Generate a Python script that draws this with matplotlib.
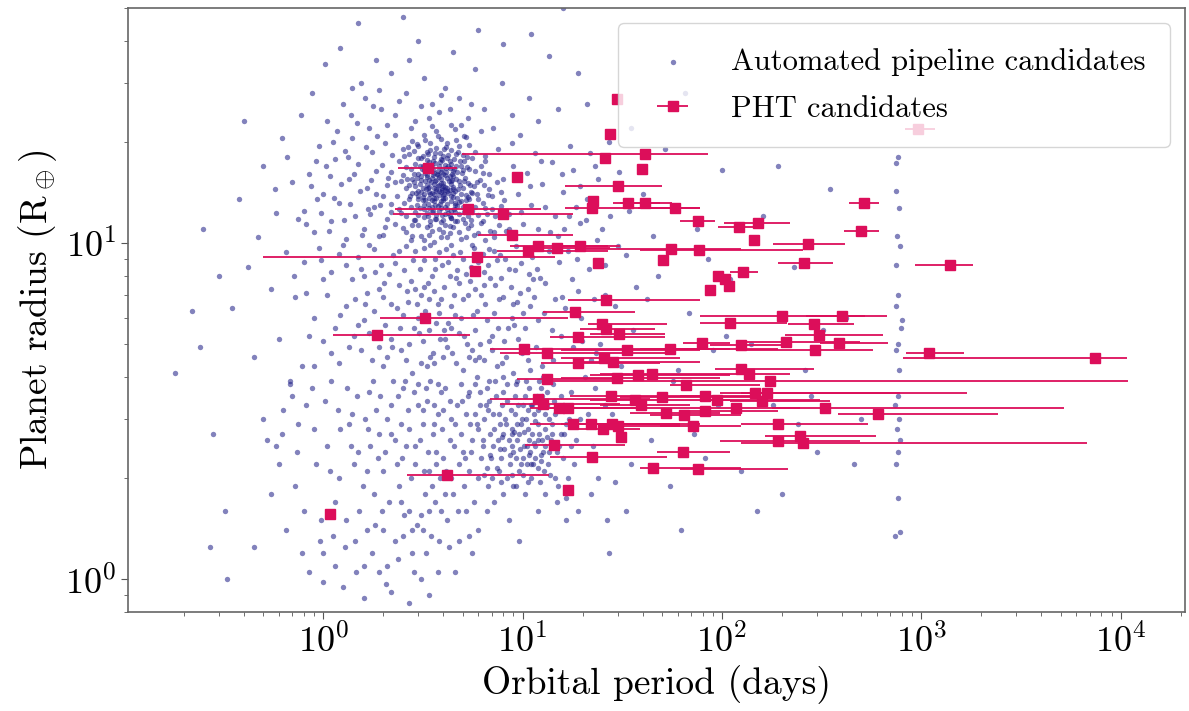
import matplotlib
matplotlib.use("Agg")
import matplotlib.pyplot as plt
import numpy as np

plt.rcParams["font.family"] = "serif"
plt.rcParams["font.serif"] = ["cmr10", "DejaVu Serif"]
plt.rcParams["mathtext.fontset"] = "cm"
plt.rcParams["axes.formatter.use_mathtext"] = True

# automated pipeline candidates: (period in days, radius in earth radii)
hot_jupiter_clump = [
    (3.2, 21.0), (3.9, 20.4), (4.6, 21.8), (2.8, 20.1), (3.5, 22.3), (5.2, 20.7), (4.2, 19.8), (3.0, 19.5),
    (3.3, 18.6), (3.7, 19.2), (4.0, 18.1), (4.4, 18.9), (2.7, 18.4), (5.0, 18.3), (3.1, 17.9), (3.6, 18.0),
    (4.8, 19.4), (2.5, 19.0), (5.8, 18.7), (4.3, 17.6),
    (2.6, 16.8), (2.9, 17.2), (3.2, 16.5), (3.4, 17.4), (3.8, 16.9), (4.1, 17.1), (4.5, 16.4), (4.9, 17.0),
    (5.4, 16.6), (3.0, 16.1), (3.6, 16.2), (4.0, 16.0), (4.7, 16.3), (2.4, 17.5), (6.2, 16.9), (3.3, 17.7),
    (3.9, 17.8), (4.3, 16.7), (5.1, 17.6), (2.2, 16.3),
    (2.3, 15.2), (2.6, 14.6), (2.8, 15.5), (3.0, 14.3), (3.1, 15.8), (3.3, 14.9), (3.4, 15.4), (3.5, 14.1),
    (3.6, 15.0), (3.7, 14.5), (3.8, 15.7), (3.9, 14.2), (4.0, 15.1), (4.1, 14.7), (4.2, 15.6), (4.3, 14.4),
    (4.4, 15.0), (4.6, 14.3), (4.8, 15.3), (5.0, 14.6), (5.3, 15.1), (5.7, 14.8), (6.1, 15.4), (6.8, 14.5),
    (2.5, 15.9), (3.2, 14.0), (3.65, 15.3), (4.05, 14.0), (4.5, 15.8), (2.9, 14.8), (3.35, 14.6), (3.75, 14.8),
    (4.25, 14.1), (5.5, 14.2), (2.1, 14.9), (7.4, 15.2),
    (2.2, 13.1), (2.4, 12.6), (2.7, 13.5), (2.9, 12.4), (3.0, 13.8), (3.2, 13.0), (3.3, 12.3), (3.4, 13.6),
    (3.5, 12.8), (3.6, 13.3), (3.7, 12.1), (3.8, 13.9), (3.9, 12.7), (4.0, 13.4), (4.1, 12.2), (4.2, 13.1),
    (4.4, 12.5), (4.5, 13.7), (4.7, 12.9), (4.9, 13.3), (5.1, 12.4), (5.4, 13.5), (5.8, 12.8), (6.3, 13.2),
    (7.0, 12.6), (8.1, 13.4), (2.6, 12.0), (3.15, 13.45), (3.55, 12.5), (3.85, 13.05), (4.3, 12.0), (4.6, 13.2),
    (5.2, 13.9), (6.6, 12.2), (3.05, 12.75), (3.45, 13.95),
    (2.3, 11.4), (2.6, 10.8), (2.9, 11.7), (3.1, 10.5), (3.3, 11.2), (3.5, 10.9), (3.7, 11.8), (3.9, 10.4),
    (4.1, 11.3), (4.3, 10.7), (4.6, 11.6), (4.9, 10.3), (5.3, 11.1), (5.7, 10.6), (6.2, 11.5), (6.9, 10.9),
    (7.6, 11.3), (2.0, 10.6), (3.6, 10.1), (4.4, 11.9), (5.0, 11.8), (8.5, 11.0), (3.2, 11.95), (2.75, 10.2),
]

hot_jupiter_core = [
    (2.95, 19.7), (3.45, 19.9), (4.15, 19.3), (4.65, 20.2), (3.75, 20.8), (5.4, 19.6), (2.65, 19.3), (3.25, 20.3),
    (2.85, 18.8), (3.15, 18.2), (3.45, 18.9), (3.55, 17.6), (3.85, 18.5), (4.05, 19.0), (4.25, 18.3), (4.55, 17.8),
    (4.75, 18.6), (5.25, 18.0), (2.55, 18.1), (3.95, 17.7), (4.85, 17.5), (3.35, 18.4), (5.6, 17.9), (6.5, 18.2),
    (2.75, 16.6), (3.05, 17.0), (3.25, 16.2), (3.45, 16.8), (3.65, 17.3), (3.75, 16.4), (3.95, 16.6), (4.15, 16.3),
    (4.35, 17.2), (4.65, 16.9), (4.95, 16.2), (5.25, 16.8), (5.75, 16.4), (2.85, 16.0), (3.55, 16.5), (4.25, 16.9),
    (4.45, 16.1), (3.15, 16.9), (3.85, 17.4), (5.05, 16.5),
    (2.45, 15.3), (2.7, 14.9), (2.95, 15.6), (3.05, 15.0), (3.25, 15.3), (3.4, 14.7), (3.5, 15.6), (3.6, 14.6),
    (3.7, 15.4), (3.8, 14.9), (3.9, 15.5), (4.0, 14.8), (4.1, 15.9), (4.2, 14.6), (4.35, 15.3), (4.5, 14.7),
    (4.65, 15.5), (4.85, 14.9), (5.15, 15.6), (5.45, 14.9), (5.9, 15.2), (6.4, 14.9), (3.15, 14.6), (3.55, 15.9),
    (3.95, 14.6), (4.45, 15.4), (2.85, 15.2), (3.3, 15.7), (3.75, 15.9), (4.75, 14.5),
    (2.35, 13.8), (2.55, 13.2), (2.8, 14.1), (3.0, 13.5), (3.1, 14.2), (3.25, 13.4), (3.4, 14.2), (3.5, 13.4),
    (3.6, 14.0), (3.7, 13.6), (3.8, 14.3), (3.9, 13.3), (4.0, 13.9), (4.1, 13.6), (4.2, 14.3), (4.35, 13.3),
    (4.5, 14.1), (4.7, 13.6), (4.9, 14.0), (5.2, 13.4), (5.6, 14.1), (6.0, 13.5), (6.7, 13.9), (3.35, 13.1),
    (3.95, 14.4), (4.6, 13.0), (2.95, 13.0), (3.65, 13.0),
    (2.45, 12.3), (2.75, 12.8), (3.0, 12.1), (3.2, 12.6), (3.35, 12.0), (3.5, 12.4), (3.65, 11.8), (3.8, 12.5),
    (3.95, 12.1), (4.1, 12.8), (4.25, 12.3), (4.4, 11.9), (4.55, 12.6), (4.8, 12.2), (5.0, 12.8), (5.3, 12.0),
    (5.6, 12.5), (6.0, 12.1), (6.5, 12.7), (7.3, 12.0), (2.85, 11.7), (3.45, 11.6), (4.0, 11.7), (4.7, 11.6),
    (5.5, 11.7),
    (2.5, 11.1), (2.8, 10.5), (3.0, 11.3), (3.4, 10.6), (3.8, 11.0), (4.2, 10.4), (4.5, 11.2), (4.8, 10.8),
    (5.2, 10.4), (5.5, 11.3), (6.0, 10.7), (6.5, 10.2), (7.2, 10.8), (3.2, 10.2), (4.0, 10.8),
]

hot_jupiter_dense = [
    (3.08, 15.45), (3.28, 14.45), (3.48, 15.15), (3.68, 14.25), (3.88, 15.05), (4.08, 14.35), (4.28, 15.25),
    (4.48, 14.45), (3.18, 13.75), (3.38, 12.75), (3.58, 13.65), (3.78, 12.85), (3.98, 13.65), (4.18, 12.65),
    (4.38, 13.85), (4.58, 12.35), (3.12, 16.65), (3.32, 15.95), (3.52, 16.95), (3.72, 16.05), (3.92, 16.25),
    (4.12, 16.75), (4.32, 15.85), (4.52, 16.65), (2.92, 14.05), (2.72, 13.85), (2.62, 15.55), (4.78, 13.25),
    (5.08, 15.25), (5.35, 13.75), (2.98, 17.85), (3.62, 18.55), (4.18, 17.85), (4.62, 18.35), (3.42, 11.35),
    (3.88, 11.55), (4.32, 11.25), (2.78, 11.35), (5.15, 11.45), (5.9, 14.0), (6.3, 16.2), (7.8, 14.2),
]

small_planet_clump = [
    (5.2, 3.1), (6.0, 2.8), (6.8, 3.4), (7.5, 2.6), (8.2, 3.0), (9.0, 2.4), (9.8, 2.9), (10.5, 2.2),
    (11.2, 2.7), (12.0, 3.2), (13.0, 2.5), (14.1, 2.9), (8.6, 2.2), (7.1, 2.5), (6.4, 3.0), (5.6, 2.6),
    (10.0, 3.3), (11.6, 2.3), (12.8, 2.1), (9.4, 2.6), (8.0, 3.6), (7.3, 3.9), (6.6, 3.7), (5.9, 4.0),
    (10.8, 3.7), (12.5, 3.5), (13.6, 3.0), (14.8, 2.4), (15.5, 2.7), (9.2, 3.5), (8.9, 2.8), (7.8, 2.3),
    (6.2, 2.3), (5.0, 2.4), (4.6, 2.9), (4.3, 3.4), (11.9, 2.6), (10.2, 2.5), (9.6, 2.1), (8.4, 2.0),
    (7.0, 2.0), (11.0, 2.0), (12.2, 1.95), (13.4, 2.2), (14.5, 2.0), (10.6, 2.8), (9.9, 3.0), (8.7, 3.2),
    (7.7, 2.9), (6.9, 2.7), (6.1, 3.3), (5.4, 3.6), (4.9, 3.8), (12.9, 2.8), (11.4, 3.1), (13.9, 2.6),
    (16.0, 2.3), (15.2, 3.2), (10.4, 3.9), (9.0, 4.1), (7.4, 4.3), (5.8, 4.5), (12.6, 4.0), (6.6, 2.15),
    (8.1, 2.45), (9.3, 2.3), (10.9, 2.4), (12.4, 2.35), (7.9, 2.65), (11.6, 2.95), (6.4, 2.05), (5.4, 2.1),
    (4.8, 2.2), (13.2, 3.6), (14.4, 3.4), (16.5, 2.9), (17.5, 2.5), (18.2, 2.2), (16.8, 2.0), (15.0, 1.9),
    (6.3, 2.5), (6.7, 3.2), (7.2, 2.8), (7.6, 3.1), (8.0, 2.7), (8.4, 3.4), (8.8, 2.5), (9.2, 3.1),
    (9.6, 2.7), (10.0, 2.3), (10.4, 3.0), (10.8, 2.6), (11.2, 3.3), (11.6, 2.5), (12.0, 2.9), (12.5, 2.6),
    (13.0, 3.1), (13.5, 2.4), (14.0, 2.7), (14.6, 3.1), (15.3, 2.5), (16.2, 2.7), (17.0, 3.0), (7.4, 2.15),
    (8.6, 2.35), (9.8, 2.2), (11.0, 2.2), (12.3, 2.25), (13.7, 2.05), (8.3, 2.9), (9.5, 3.3), (10.7, 3.2),
    (11.8, 3.5), (6.8, 3.9), (8.0, 4.0), (9.4, 3.9), (10.9, 4.2), (12.3, 3.7), (14.2, 3.8), (15.6, 3.5),
    (5.8, 3.1), (6.0, 2.0), (7.8, 1.95), (9.0, 1.9), (10.6, 1.95), (13.0, 1.8), (14.8, 1.7), (16.5, 1.75),
    (18.5, 2.6), (19.5, 3.0),
    (8.5, 2.6), (9.1, 2.75), (9.7, 2.45), (10.2, 2.75), (10.8, 2.35), (11.4, 2.55), (11.9, 2.15), (8.9, 2.05),
    (9.4, 2.9), (10.1, 2.05), (12.7, 2.4), (7.7, 2.45), (13.3, 2.65), (6.9, 2.35), (12.1, 2.7), (10.5, 2.5),
]

middle_band = [
    (1.1, 8.2), (1.3, 6.5), (1.5, 9.1), (1.7, 5.4), (1.9, 7.3), (2.1, 4.6), (2.3, 8.7), (2.5, 6.1),
    (2.7, 5.0), (2.9, 9.5), (3.1, 7.0), (3.3, 4.3), (3.5, 8.0), (3.7, 5.8), (3.9, 6.8), (4.2, 4.9),
    (4.5, 9.2), (4.8, 7.6), (5.1, 5.3), (5.5, 8.5), (5.9, 6.3), (6.4, 4.5), (6.9, 7.9), (7.5, 5.6),
    (8.2, 9.0), (9.0, 6.6), (9.9, 4.7), (10.8, 8.1), (11.9, 5.9), (1.2, 4.4), (1.4, 7.8), (1.6, 5.9),
    (1.8, 9.6), (2.0, 6.9), (2.2, 5.2), (2.4, 7.5), (2.6, 9.8), (2.8, 4.1), (3.0, 6.0), (3.2, 8.9),
    (3.4, 5.5), (3.6, 7.2), (3.8, 9.4), (4.0, 4.6), (4.4, 6.5), (4.7, 8.3), (5.0, 4.2), (5.3, 7.0),
    (5.7, 9.7), (6.1, 5.0), (6.7, 8.6), (7.2, 6.2), (7.9, 4.4), (8.7, 7.4), (9.5, 5.2), (10.4, 9.4),
    (11.4, 6.9), (12.5, 4.3), (0.9, 6.0), (0.8, 8.8), (1.0, 5.1), (0.95, 9.7), (1.25, 9.9), (1.55, 4.8),
    (2.15, 8.1), (2.65, 6.7), (3.15, 5.1), (3.45, 9.9), (3.95, 8.6), (4.35, 5.6), (4.9, 6.0), (5.6, 4.8),
    (6.3, 9.3), (7.0, 5.3), (8.0, 6.9), (9.2, 8.3), (10.1, 6.2), (13.0, 7.6), (14.0, 5.5), (15.2, 8.8),
    (16.4, 6.4), (17.8, 4.9), (19.0, 7.2),
    (1.05, 7.0), (1.15, 5.6), (1.2, 9.3), (1.35, 4.9), (1.45, 6.8), (1.55, 8.4), (1.65, 7.1), (1.75, 4.5),
    (1.8, 6.3), (1.95, 8.6), (2.05, 5.7), (2.25, 9.2), (2.35, 6.4), (2.45, 4.8), (2.55, 8.3), (2.75, 7.7),
    (2.85, 5.6), (2.95, 6.6), (3.05, 8.4), (3.25, 6.3), (3.35, 7.6), (3.55, 4.7), (3.65, 9.0), (3.75, 6.6),
    (3.85, 5.2), (4.05, 7.4), (4.15, 9.6), (4.25, 5.8), (4.55, 7.0), (4.65, 4.4), (4.85, 9.4), (5.05, 6.8),
    (5.25, 5.0), (5.45, 7.7), (5.8, 5.5), (6.0, 8.8), (6.2, 7.0), (6.6, 5.9), (6.8, 9.6), (7.3, 7.5),
    (7.7, 9.2), (8.1, 5.1), (8.5, 8.4), (8.9, 6.0), (9.3, 9.8), (9.7, 7.1), (10.3, 5.6), (10.6, 7.3),
    (11.1, 9.1), (11.7, 4.9), (12.2, 7.9), (12.8, 6.2), (13.5, 9.5), (14.5, 6.8), (1.1, 4.7), (1.0, 7.8),
    (0.85, 5.3), (0.9, 4.3), (0.82, 7.1), (0.98, 8.9), (1.3, 8.6), (1.5, 5.7), (1.7, 9.9), (2.0, 4.3),
    (2.2, 6.6), (2.6, 4.5), (2.9, 7.3), (3.2, 9.7), (3.4, 6.8), (3.6, 4.4), (4.1, 5.2), (4.3, 8.0),
    (4.6, 6.1), (5.0, 9.0), (5.4, 4.6), (5.8, 7.3), (6.5, 6.6), (7.0, 4.8), (7.6, 6.8), (8.3, 4.6),
    (9.1, 5.7), (9.8, 8.7), (10.9, 6.5), (11.8, 8.4), (3.1, 4.4), (2.4, 9.5), (1.9, 4.9), (1.6, 8.0),
    (4.4, 9.9), (5.6, 9.9), (6.4, 8.2), (7.4, 8.9),
    (1.22, 6.1), (1.42, 5.3), (1.62, 6.6), (1.82, 8.2), (2.02, 7.6), (2.22, 4.9), (2.42, 5.6), (2.62, 7.2),
    (2.82, 8.9), (3.02, 5.4), (3.22, 7.4), (3.42, 4.6), (3.62, 8.4), (3.82, 6.2), (4.02, 5.5), (4.22, 8.8),
    (4.42, 4.7), (4.62, 7.9), (4.82, 5.4), (5.22, 8.1), (5.62, 6.1), (6.02, 4.6), (6.42, 7.5), (6.82, 5.1),
    (7.22, 9.5), (7.82, 7.9), (8.42, 5.6), (9.42, 6.7), (10.6, 4.5), (11.3, 7.8),
]

small_short_period = [
    (0.6, 2.2), (0.7, 3.5), (0.8, 1.6), (0.9, 2.8), (1.0, 1.2), (1.1, 3.9), (1.2, 2.0), (1.3, 1.5),
    (1.4, 3.1), (1.5, 2.4), (1.6, 1.1), (1.7, 3.6), (1.8, 1.8), (1.9, 2.7), (2.0, 1.4), (2.2, 3.3),
    (2.4, 1.9), (2.6, 2.5), (2.8, 1.2), (3.0, 3.8), (3.2, 2.1), (3.4, 1.6), (3.6, 2.9), (3.8, 1.3),
    (4.0, 2.3), (0.65, 1.4), (0.75, 2.9), (0.85, 1.05), (1.05, 2.5), (1.15, 1.7), (1.35, 2.9), (1.45, 1.3),
    (1.65, 2.1), (1.85, 3.2), (2.1, 1.1), (2.3, 2.6), (2.5, 3.7), (2.7, 1.6), (2.9, 2.2), (3.1, 1.0),
    (3.3, 3.4), (3.5, 1.9), (3.7, 2.4), (3.9, 3.6), (4.2, 1.5), (4.5, 1.8), (4.8, 1.3), (1.25, 0.95),
    (1.6, 0.88), (2.2, 0.92), (2.7, 0.85), (0.55, 1.8), (0.5, 3.0), (0.45, 1.25), (1.0, 0.98), (3.4, 0.9),
    (1.9, 1.05), (5.2, 1.6), (6.0, 1.4), (7.2, 1.7), (5.6, 1.2), (8.5, 1.5), (9.6, 1.3), (12.0, 1.6),
    (4.6, 1.05), (2.0, 2.1), (2.5, 1.35),
    (0.62, 2.7), (0.72, 1.9), (0.82, 3.3), (0.92, 2.2), (1.02, 3.4), (1.12, 1.35), (1.22, 2.8), (1.32, 3.7),
    (1.42, 2.2), (1.52, 1.6), (1.62, 3.0), (1.72, 2.5), (1.82, 1.45), (1.92, 3.5), (2.05, 2.4), (2.15, 1.7),
    (2.25, 3.9), (2.35, 2.2), (2.45, 2.9), (2.55, 1.55), (2.65, 3.2), (2.75, 2.0), (2.85, 3.6), (2.95, 1.45),
    (3.05, 2.6), (3.15, 3.2), (3.25, 1.8), (3.35, 2.4), (3.45, 3.9), (3.55, 2.7), (3.65, 1.7), (3.75, 3.1),
    (3.85, 2.0), (3.95, 2.8), (4.1, 3.7), (4.3, 2.6), (4.4, 2.0), (4.7, 3.3), (4.9, 2.7), (5.1, 1.9),
    (5.3, 3.5), (5.5, 2.4), (5.7, 1.7), (5.9, 2.9), (6.3, 2.6), (6.7, 1.9), (7.1, 3.1), (7.6, 2.1),
    (8.0, 1.8), (8.8, 2.7), (9.3, 1.9), (10.3, 1.8), (11.3, 2.2), (0.58, 2.5), (0.68, 3.9), (0.78, 1.2),
    (0.88, 3.7), (0.98, 1.5), (1.08, 2.1), (1.18, 3.2), (1.28, 1.25), (1.38, 2.5), (1.48, 3.5), (1.58, 1.9),
    (1.68, 2.8), (1.78, 3.9), (1.88, 2.3), (1.98, 1.6), (2.08, 3.0), (2.18, 2.7), (2.28, 1.3), (2.38, 3.5),
    (2.48, 2.3), (2.58, 3.9), (2.68, 2.8), (2.78, 1.4), (2.88, 2.5), (2.98, 3.3), (3.08, 1.55), (3.18, 2.9),
    (3.28, 3.7), (3.38, 2.1), (3.48, 1.35), (3.58, 3.3), (3.68, 2.2), (3.78, 3.8), (3.88, 1.6), (3.98, 3.2),
    (4.15, 2.1), (4.35, 3.0), (4.55, 2.5), (4.75, 1.6), (4.95, 3.4), (5.15, 2.3), (5.45, 2.9), (5.75, 3.8),
    (6.15, 3.6), (6.55, 3.3), (6.95, 2.3), (7.35, 3.5), (7.85, 3.3), (8.35, 3.8), (9.3, 3.8), (10.3, 3.5),
    (11.0, 3.3), (12.1, 3.9), (13.3, 3.3),
    (1.14, 1.1), (1.46, 1.05), (1.76, 1.2), (2.06, 0.97), (2.36, 1.15), (2.86, 1.05), (3.26, 1.2), (3.76, 1.05),
    (4.26, 1.25), (0.96, 1.3), (1.66, 1.4), (2.46, 1.7), (3.16, 1.4), (4.06, 1.8), (5.36, 1.35), (6.6, 1.6),
]

ultra_short_period = [
    (0.18, 4.1), (0.25, 11.0), (0.28, 2.7), (0.32, 1.6), (0.35, 6.4), (0.38, 13.5), (0.42, 8.5), (0.45, 4.6),
    (0.5, 17.0), (0.52, 2.6), (0.55, 7.3), (0.58, 12.3), (0.6, 5.2), (0.62, 20.5), (0.65, 9.4), (0.68, 3.8),
    (0.7, 15.2), (0.72, 6.9), (0.75, 11.8), (0.78, 4.3), (0.3, 8.0), (0.4, 23.0), (0.27, 1.25), (0.33, 1.0),
    (0.47, 10.4), (0.57, 14.5), (0.63, 3.2), (0.66, 18.0), (0.71, 8.0), (0.74, 2.4), (0.77, 24.0), (0.22, 6.3),
    (0.24, 4.9),
]

large_short_period = [
    (0.8, 12.5), (0.85, 16.0), (0.9, 10.8), (0.95, 19.5), (1.0, 14.0), (1.05, 23.0), (1.1, 11.6), (1.15, 17.8),
    (1.2, 13.2), (1.25, 26.0), (1.3, 10.3), (1.35, 15.5), (1.4, 20.5), (1.45, 12.0), (1.5, 17.2), (1.55, 30.0),
    (1.6, 11.0), (1.65, 14.6), (1.7, 22.0), (1.75, 18.6), (1.8, 12.8), (1.85, 16.4), (1.9, 10.5), (1.95, 25.0),
    (2.0, 13.8), (2.05, 19.8), (2.1, 11.8), (0.88, 28.0), (1.02, 34.0), (1.22, 38.0), (1.5, 45.0), (1.12, 20.0),
    (1.38, 24.0), (1.62, 27.0), (1.85, 35.0), (0.93, 13.5), (1.08, 15.8), (1.28, 18.8), (1.72, 12.2),
    (0.82, 11.4), (0.87, 14.8), (0.92, 17.6), (0.97, 12.3), (1.03, 16.9), (1.07, 10.9), (1.13, 13.6), (1.17, 21.5),
    (1.23, 15.0), (1.27, 11.7), (1.33, 18.0), (1.37, 13.1), (1.43, 16.1), (1.47, 22.8), (1.53, 14.3), (1.57, 10.6),
    (1.63, 19.3), (1.67, 12.6), (1.73, 15.4), (1.77, 25.5), (1.83, 14.0), (1.87, 20.8), (1.93, 13.0), (1.97, 17.1),
    (2.03, 11.2), (2.08, 22.5), (2.12, 15.6), (2.18, 12.4), (2.22, 18.3), (2.28, 20.9), (2.4, 26.5), (2.75, 22.0),
    (3.1, 25.5), (3.4, 23.5), (3.9, 27.5), (4.3, 25.0), (4.9, 22.5), (5.5, 26.0), (6.2, 21.5), (1.4, 29.0),
    (1.9, 28.5), (2.2, 32.0),
]

very_large = [
    (2.3, 24.0), (2.6, 28.0), (2.9, 23.0), (3.2, 31.0), (3.5, 26.0), (3.8, 24.5), (4.1, 29.0), (4.4, 22.5),
    (4.8, 27.0), (5.3, 23.5), (5.8, 33.0), (6.4, 25.0), (7.1, 22.0), (7.9, 30.0), (8.8, 24.0), (9.7, 21.0),
    (10.8, 27.0), (12.0, 23.0), (13.5, 36.0), (15.0, 25.0), (3.0, 40.0), (4.5, 37.0), (6.0, 43.0), (2.5, 47.0),
    (8.0, 39.0), (16.0, 50.0), (19.0, 32.0), (3.7, 21.5), (5.1, 20.8), (2.7, 35.0), (11.0, 42.0),
    (6.5, 17.5), (7.0, 13.8), (7.5, 19.0), (8.0, 15.5), (8.5, 12.2), (9.0, 17.0), (9.5, 14.0), (10.0, 11.4),
    (10.5, 16.2), (11.0, 13.0), (11.5, 18.5), (12.0, 11.0), (12.5, 15.0), (13.0, 12.8), (14.0, 17.4), (15.0, 10.5),
    (16.0, 14.2), (17.0, 12.0), (18.0, 16.5), (19.5, 11.5), (6.8, 16.0), (7.8, 12.9), (8.9, 19.8), (9.8, 12.4),
    (10.9, 14.8), (12.3, 17.6), (13.8, 10.8), (6.3, 11.6), (7.2, 10.4), (8.3, 10.9), (21.0, 13.5), (23.0, 17.0),
    (25.0, 11.0),
]

beyond_clump = [
    (15.5, 5.3), (16.8, 9.5), (17.4, 3.6), (18.5, 12.8), (19.6, 6.0), (20.5, 4.0), (21.5, 8.4), (22.5, 2.5),
    (23.5, 10.2), (24.5, 5.0), (26.0, 3.3), (27.5, 12.0), (29.0, 6.5), (31.0, 4.3), (33.0, 9.2), (35.0, 2.2),
    (37.0, 7.4), (15.8, 16.0), (17.2, 19.5), (19.3, 14.8), (21.8, 18.5), (24.0, 15.5), (27.0, 20.0), (30.5, 16.3),
    (14.6, 12.0), (16.2, 11.0), (18.8, 9.0), (20.8, 11.7), (22.8, 6.8), (25.8, 8.6), (14.2, 4.5), (15.8, 6.9),
    (17.6, 7.8), (19.9, 5.1), (21.3, 3.1), (23.3, 4.7), (16.5, 1.5), (19.0, 1.6), (22.0, 1.8), (26.5, 1.5),
]

long_period = [
    (22, 4.5), (24, 2.0), (26, 7.0), (28, 3.1), (30, 9.8), (33, 1.6), (36, 5.5), (40, 14.0),
    (44, 2.6), (48, 8.0), (52, 19.0), (57, 3.9), (62, 1.4), (68, 6.2), (75, 11.0), (82, 2.3),
    (90, 4.8), (100, 16.5), (110, 7.8), (125, 2.1), (140, 5.0), (160, 12.0), (180, 3.3), (200, 1.8),
    (230, 8.5), (260, 4.2), (300, 2.4), (350, 14.5), (420, 6.0), (500, 3.0), (21, 26.0), (27, 1.2),
    (35, 22.0), (45, 10.5), (55, 1.9), (65, 28.0), (85, 9.0), (120, 24.0), (150, 1.6), (190, 17.0),
    (240, 2.9), (320, 5.5), (38, 3.4), (42, 6.8), (31, 2.9), (23, 3.7), (25, 5.8), (29, 1.95),
    (34, 12.5), (60, 4.2), (72, 2.7), (95, 3.3), (105, 5.3), (280, 3.5), (460, 2.2),
]

edge_column = [
    (760, 18.0), (750, 17.3), (770, 12.7), (755, 10.5), (780, 9.8), (745, 8.6), (765, 7.0), (750, 6.5),
    (790, 5.6), (760, 5.0), (745, 4.8), (775, 4.2), (760, 3.5), (740, 3.3), (770, 3.0), (755, 2.8),
    (785, 2.6), (765, 2.4), (745, 2.2), (760, 1.75), (780, 1.38), (740, 1.35), (750, 14.3), (800, 5.9),
]

# PHT candidates: period, radius, lower and upper ends of the period error bar
pht_period = [29.9, 27.5, 967, 3.36, 26.0, 41.3, 39.9, 9.40, 30.2, 22.6,
              22.4, 33.9, 41.3, 58.3, 76.2, 122, 152, 144, 271, 259,
              518, 500, 1400, 55.7, 77.0, 50.8, 127, 95.9, 104, 109,
              87.5, 5.34, 8.00, 8.87, 10.7, 12.0, 14.9, 19.5, 5.93, 5.79,
              24.0, 26.3, 18.4, 3.25, 1.87, 1.08, 4.19, 16.9, 25.1, 26.3,
              30.6, 19.0, 79.7, 10.2, 13.3, 33.5, 55.1, 19.0, 25.7, 28.5,
              13.3, 29.9, 38.1, 44.8, 66.3, 12.0, 12.7, 15.3, 16.8, 27.9,
              36.8, 39.4, 50.2, 52.6, 64.8, 82.6, 94.8, 82.6, 18.0, 22.1,
              25.4, 28.2, 30.2, 31.3, 71.8, 14.4, 64.0, 22.4, 45.3, 76.2,
              201, 402, 110, 288, 308, 124, 210, 388, 294, 1098,
              7390, 124, 136, 175, 146, 169, 158, 117, 330, 609,
              192, 247, 192, 256]
pht_radius = [26.8, 21.1, 21.8, 16.7, 17.9, 18.4, 16.6, 15.7, 14.8, 13.3,
              12.7, 13.2, 13.2, 12.7, 11.6, 11.2, 11.5, 10.2, 9.93, 8.72,
              13.2, 10.9, 8.60, 9.60, 9.53, 8.90, 8.20, 7.98, 7.81, 7.45,
              7.25, 12.6, 12.2, 10.6, 9.47, 9.80, 9.66, 9.80, 9.08, 8.25,
              8.72, 6.77, 6.23, 5.98, 5.32, 1.56, 2.04, 1.84, 5.74, 5.55,
              5.36, 5.25, 5.04, 4.84, 4.71, 4.81, 4.84, 4.40, 4.55, 4.43,
              3.94, 3.97, 4.05, 4.08, 3.78, 3.43, 3.32, 3.23, 3.23, 3.50,
              3.41, 3.30, 3.48, 3.12, 3.08, 3.50, 3.41, 3.16, 2.89, 2.89,
              2.81, 2.89, 2.85, 2.65, 2.85, 2.51, 2.40, 2.32, 2.14, 2.13,
              6.06, 6.06, 5.78, 5.74, 5.32, 4.97, 5.07, 5.04, 4.81, 4.71,
              4.55, 4.22, 4.08, 3.88, 3.58, 3.58, 3.39, 3.23, 3.23, 3.10,
              2.89, 2.67, 2.58, 2.54]
pht_period_lo = [29.9, 27.5, 832, 2.38, 26.0, 4.98, 39.9, 9.40, 16.4, 22.6,
                 16.4, 28.5, 30.9, 38.0, 61.8, 95.9, 102, 144, 181, 192,
                 436, 411, 934, 19.5, 39.0, 50.8, 110, 95.9, 104, 109,
                 87.5, 2.30, 2.24, 6.00, 7.46, 8.67, 10.9, 15.5, 0.50, 5.79,
                 24.0, 16.8, 12.7, 1.93, 1.12, 1.08, 2.64, 16.9, 21.4, 19.5,
                 21.9, 13.8, 64.0, 6.89, 7.73, 15.5, 39.0, 12.3, 15.5, 19.5,
                 9.40, 15.5, 21.9, 24.5, 55.1, 6.89, 7.73, 10.9, 13.8, 17.3,
                 21.9, 24.5, 30.9, 34.7, 43.7, 61.8, 77.9, 61.8, 10.9, 15.5,
                 18.4, 21.9, 24.5, 31.3, 49.1, 10.3, 47.4, 13.8, 39.0, 61.8,
                 77.9, 265, 77.9, 215, 208, 87.5, 124, 312, 117, 842,
                 813, 92.7, 98.2, 13.8, 98.2, 124, 110, 77.9, 179, 384,
                 124, 165, 98.2, 124]
pht_period_hi = [29.9, 27.5, 1177, 4.70, 26.0, 85.5, 39.9, 9.40, 50.2, 22.6,
                 77.9, 49.1, 56.4, 78.0, 92.7, 144, 220, 144, 416, 362,
                 616, 616, 1826, 124, 256, 50.8, 151, 95.9, 104, 109,
                 87.5, 12.3, 18.0, 17.8, 26.9, 30.9, 27.5, 26.9, 14.6, 5.79,
                 24.0, 77.9, 36.8, 16.8, 5.46, 1.08, 13.5, 16.9, 53.2, 46.3,
                 52.0, 52.0, 110, 110, 55.1, 77.9, 192, 49.1, 61.8, 77.9,
                 29.9, 98.2, 110, 98.2, 156, 43.7, 30.9, 77.9, 39.0, 77.9,
                 110, 69.3, 156, 98.2, 124, 156, 312, 192, 61.8, 49.1,
                 39.0, 77.9, 61.8, 31.3, 124, 32.8, 110, 53.2, 124, 215,
                 524, 676, 213, 462, 645, 220, 494, 684, 569, 1645,
                 10800, 288, 220, 10900, 1703, 785, 350, 247, 5170, 2410,
                 537, 589, 494, 6810]

blue_groups = [hot_jupiter_clump, hot_jupiter_core, hot_jupiter_dense, small_planet_clump,
               middle_band, small_short_period, ultra_short_period, large_short_period,
               very_large, beyond_clump, long_period, edge_column]
auto_pts = np.array([pt for group in blue_groups for pt in group])

pht_p = np.array(pht_period)
pht_r = np.array(pht_radius)
xerr = np.array([pht_p - np.array(pht_period_lo), np.array(pht_period_hi) - pht_p])

fig, ax = plt.subplots(figsize=(11.89, 7.11), dpi=100)
fig.subplots_adjust(left=0.1077, right=0.9966, top=0.9887, bottom=0.1392)

ax.scatter(auto_pts[:, 0], auto_pts[:, 1], s=15, color="#1c1c85", alpha=0.55,
           linewidths=0, label="Automated pipeline candidates", zorder=2)
ax.errorbar(pht_p, pht_r, xerr=xerr, fmt="s", color="#dc0e5a", ms=7.5, elinewidth=1.3,
            capsize=0, label="PHT candidates", zorder=3)

ax.set_xscale("log")
ax.set_yscale("log")
ax.set_xlim(0.105, 2.1e4)
ax.set_ylim(0.8, 50)

ax.set_xlabel("Orbital period (days)", fontsize=27)
ax.set_ylabel(r"Planet radius (R$_\oplus$)", fontsize=27)
ax.tick_params(axis="both", which="major", labelsize=26, length=5, color="#555555")
ax.tick_params(axis="both", which="minor", length=3, color="#555555")
for sp in ax.spines.values():
    sp.set_color("#666666")
    sp.set_linewidth(1.2)

leg = ax.legend(loc="upper right", fontsize=22, framealpha=0.8, borderpad=0.8,
                labelspacing=0.65, handletextpad=0.9, edgecolor="#cccccc")
leg.set_zorder(5)

plt.savefig("out.png", dpi=100)
plt.close()
